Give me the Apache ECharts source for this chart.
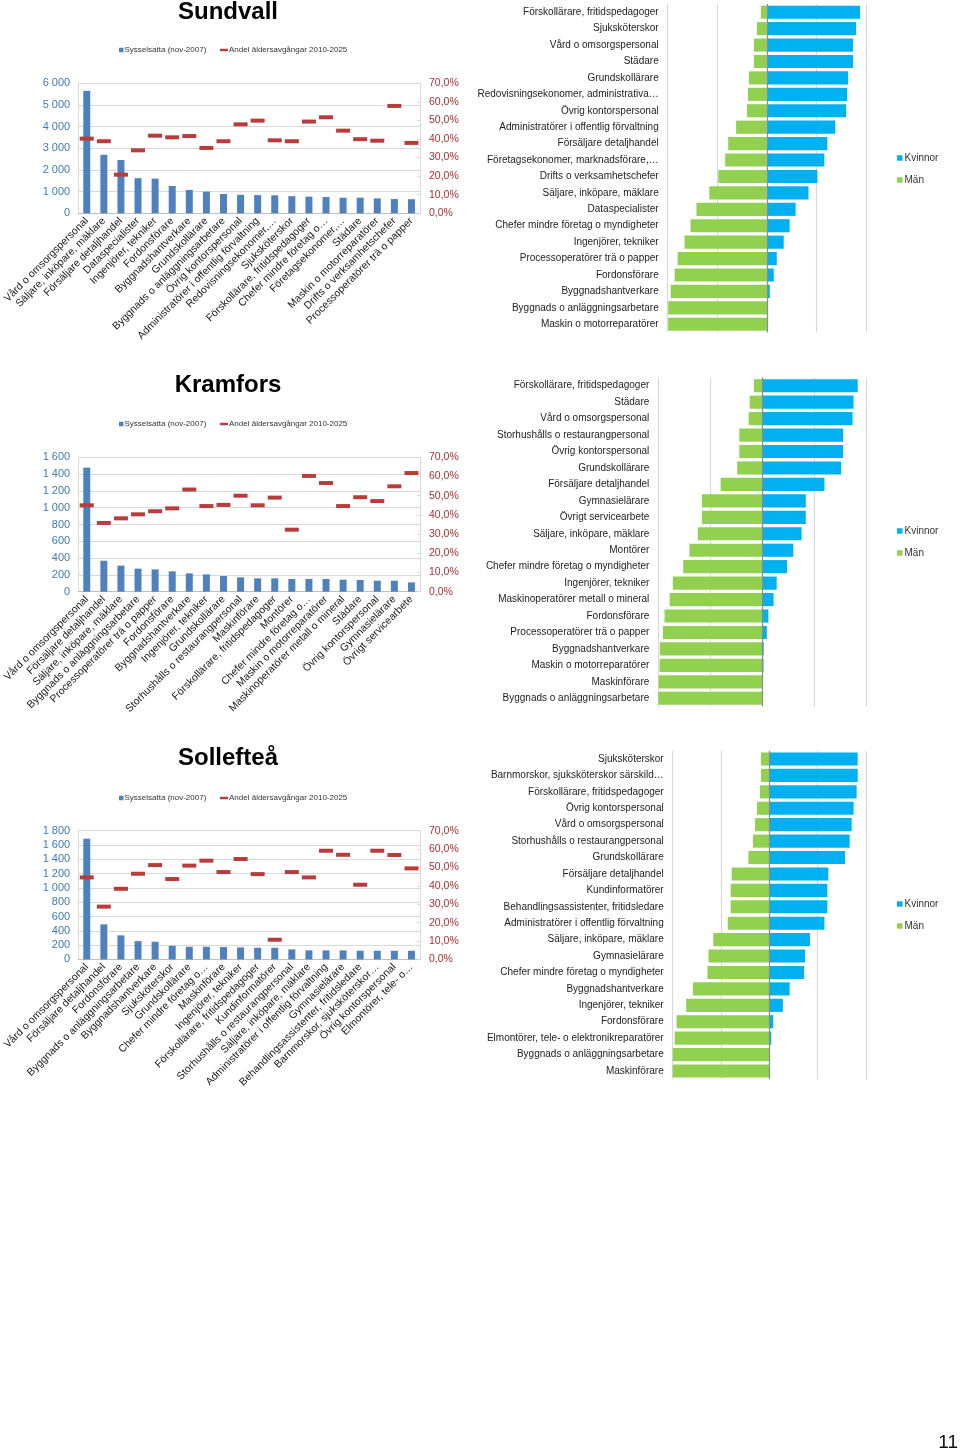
<!DOCTYPE html>
<html>
<head>
<meta charset="utf-8">
<script src="https://cdn.jsdelivr.net/npm/echarts@6/dist/echarts.min.js"></script>
<style>
html,body{margin:0;padding:0;background:#fff;}
#c{width:960px;height:1454px;}
</style>
</head>
<body>
<div id="c"></div>
<script>
// ---------- Sundvall ----------
const sundCats = ["Vård o omsorgspersonal","Säljare, inköpare, mäklare","Försäljare detaljhandel","Dataspecialister","Ingenjörer, tekniker","Fordonsförare","Byggnadshantverkare","Grundskollärare","Byggnads o anläggningsarbetare","Övrig kontorspersonal","Administratörer i offentlig förvaltning","Redovisningsekonomer,…","Sjuksköterskor","Förskollärare, fritidspedagoger","Chefer mindre företag o…","Företagsekonomer,…","Städare","Maskin o motorreparatörer","Drifts o verksamhetschefer","Processoperatörer trä o papper"];
const sundSyss = [5650,2700,2460,1620,1600,1260,1080,1000,890,850,840,830,790,770,750,720,720,690,660,650];
const sundAndel = [40.2,38.8,20.8,33.9,41.8,40.9,41.6,35.2,38.8,47.9,49.9,39.3,38.8,49.4,51.7,44.5,39.9,39.1,57.8,37.9];
const sundGenderCats = ["Förskollärare, fritidspedagoger","Sjuksköterskor","Vård o omsorgspersonal","Städare","Grundskollärare","Redovisningsekonomer, administrativa…","Övrig kontorspersonal","Administratörer i offentlig förvaltning","Försäljare detaljhandel","Företagsekonomer, marknadsförare,…","Drifts o verksamhetschefer","Säljare, inköpare, mäklare","Dataspecialister","Chefer mindre företag o myndigheter","Ingenjörer, tekniker","Processoperatörer trä o papper","Fordonsförare","Byggnadshantverkare","Byggnads o anläggningsarbetare","Maskin o motorreparatörer"];
const sundKvinnor = [94,90,87,87,82,81,80,69,61,58,51,42,29,23,17,10,7,3,0.5,0.5];
const sundMan = [6,10,13,13,18,19,20,31,39,42,49,58,71,77,83,90,93,97,99.5,99.5];

// ---------- Kramfors ----------
const kramCats = ["Vård o omsorgspersonal","Försäljare detaljhandel","Säljare, inköpare, mäklare","Byggnads o anläggningsarbetare","Processoperatörer trä o papper","Fordonsförare","Byggnadshantverkare","Ingenjörer, tekniker","Grundskollärare","Storhushålls o restaurangpersonal","Maskinförare","Förskollärare, fritidspedagoger","Montörer","Chefer mindre företag o…","Maskin o motorreparatörer","Maskinoperatörer metall o mineral","Städare","Övrig kontorspersonal","Gymnasielärare","Övrigt servicearbete"];
const kramSyss = [1477,369,310,274,266,242,218,206,187,171,159,159,151,151,151,143,139,131,131,111];
const kramAndel = [45.0,35.8,38.2,40.3,41.9,43.4,53.2,44.6,45.2,50.0,45.0,49.0,32.3,60.3,56.6,44.6,49.2,47.2,54.9,61.8];
const kramGenderCats = ["Förskollärare, fritidspedagoger","Städare","Vård o omsorgspersonal","Storhushålls o restaurangpersonal","Övrig kontorspersonal","Grundskollärare","Försäljare detaljhandel","Gymnasielärare","Övrigt servicearbete","Säljare, inköpare, mäklare","Montörer","Chefer mindre företag o myndigheter","Ingenjörer, tekniker","Maskinoperatörer metall o mineral","Fordonsförare","Processoperatörer trä o papper","Byggnadshantverkare","Maskin o motorreparatörer","Maskinförare","Byggnads o anläggningsarbetare"];
const kramKvinnor = [92,88,87,78,78,76,60,42,42,38,30,24,14,11,6,4.5,1.5,1.3,0.3,0];
const kramMan = [8,12,13,22,22,24,40,58,58,62,70,76,86,89,94,95.5,98.5,98.7,99.7,100];

// ---------- Sollefteå ----------
const solCats = ["Vård o omsorgspersonal","Försäljare detaljhandel","Fordonsförare","Byggnads o anläggningsarbetare","Byggnadshantverkare","Sjuksköterskor","Grundskollärare","Chefer mindre företag o…","Maskinförare","Ingenjörer, tekniker","Förskollärare, fritidspedagoger","Kundinformatörer","Storhushålls o restaurangpersonal","Säljare, inköpare, mäklare","Administratörer i offentlig förvaltning","Gymnasielärare","Behandlingsassistenter, fritidsledare","Barnmorskor, sjuksköterskor…","Övrig kontorspersonal","Elmontörer, tele- o…"];
const solSyss = [1688,490,336,256,247,191,177,177,173,168,163,163,140,126,126,126,121,121,121,121];
const solAndel = [44.6,28.7,38.4,46.6,51.3,43.7,51.0,53.7,47.5,54.6,46.4,10.7,47.5,44.6,59.1,56.9,40.6,59.1,56.8,49.5];
const solGenderCats = ["Sjuksköterskor","Barnmorskor, sjuksköterskor särskild…","Förskollärare, fritidspedagoger","Övrig kontorspersonal","Vård o omsorgspersonal","Storhushålls o restaurangpersonal","Grundskollärare","Försäljare detaljhandel","Kundinformatörer","Behandlingsassistenter, fritidsledare","Administratörer i offentlig förvaltning","Säljare, inköpare, mäklare","Gymnasielärare","Chefer mindre företag o myndigheter","Byggnadshantverkare","Ingenjörer, tekniker","Fordonsförare","Elmontörer, tele- o elektronikreparatörer","Byggnads o anläggningsarbetare","Maskinförare"];
const solKvinnor = [91.4,91.4,90.3,87.2,85.2,83.1,78.3,61,60,60,57,42,37,36,21,14,4,2,0,0];
const solMan = [8.6,8.6,9.7,12.8,14.8,16.9,21.7,39,40,40,43,58,63,64,79,86,96,98,100,100];

const titles = ["Sundvall","Kramfors","Sollefteå"];
const leftMax = [6000,1600,1800];
const leftInterval = [1000,200,200];
const pctMax = 70, pctInterval = 10;

// ---------- layout ----------
const FONT = "'Liberation Sans', Arial, sans-serif";
const blocks = [
  {cats:sundCats, syss:sundSyss, andel:sundAndel, gcats:sundGenderCats, kv:sundKvinnor, man:sundMan,
   titleY:12, legY:41, lg:{top:83.3,h:130}, rg:{left:667.7,right:866,top:4,h:328.5}, rlegY:148},
  {cats:kramCats, syss:kramSyss, andel:kramAndel, gcats:kramGenderCats, kv:kramKvinnor, man:kramMan,
   titleY:385, legY:415, lg:{top:457.3,h:134.4}, rg:{left:658.3,right:866,top:377.5,h:329}, rlegY:521},
  {cats:solCats, syss:solSyss, andel:solAndel, gcats:solGenderCats, kv:solKvinnor, man:solMan,
   titleY:758, legY:789, lg:{top:830.7,h:128.7}, rg:{left:672.7,right:866,top:750.8,h:328.4}, rlegY:894}
];

const C_BAR = '#4f81bd', C_MARK = '#b83c3c', C_KV = '#00b0f0', C_MAN = '#92d050';
const C_LEFTLBL = '#3e7cb1', C_RIGHTLBL = '#a83232', GRID = '#d9d9d9';

const grid = [], xAxis = [], yAxis = [], series = [], legend = [], graphic = [];

function thousands(v){ return String(v).replace(/\B(?=(\d{3})+(?!\d))/g,' '); }

blocks.forEach((b,i)=>{
  graphic.push({type:'text', x:228, y:b.titleY, style:{text:titles[i], textAlign:'center', textVerticalAlign:'middle', font:'bold 24px '+FONT, fill:'#000'}});
  grid.push({left:73, width:347, top:b.lg.top, height:b.lg.h});
  xAxis.push({type:'category', gridIndex:i, data:b.cats,
    axisLine:{lineStyle:{color:'#bfbfbf'}}, axisTick:{show:false},
    axisLabel:{rotate:45, interval:0, fontSize:10.5, color:'#1a1a1a', fontFamily:FONT, margin:6}});
  yAxis.push({type:'value', gridIndex:i, min:0, max:leftMax[i], interval:leftInterval[i], position:'left',
    axisLine:{show:true, lineStyle:{color:GRID}}, axisTick:{show:false},
    splitLine:{lineStyle:{color:GRID}},
    axisLabel:{fontSize:11, color:C_LEFTLBL, fontFamily:FONT, margin:8, formatter:thousands}});
  yAxis.push({type:'value', gridIndex:i, min:0, max:pctMax, interval:pctInterval, position:'right',
    axisLine:{show:true, lineStyle:{color:GRID}}, axisTick:{show:true, inside:true, length:3, lineStyle:{color:GRID}},
    splitLine:{show:false},
    axisLabel:{fontSize:10.5, color:C_RIGHTLBL, fontFamily:FONT, margin:9, formatter:v=>v.toFixed(1).replace('.',',')+'%'}});
  series.push({name:'Sysselsatta (nov-2007)', type:'bar', xAxisIndex:i, yAxisIndex:2*i, data:b.syss, barWidth:7, itemStyle:{color:C_BAR}, silent:true});
  series.push({name:'Andel äldersavgångar 2010-2025', type:'scatter', xAxisIndex:i, yAxisIndex:2*i+1, data:b.andel, symbol:'rect', symbolSize:[14,4], itemStyle:{color:C_MARK, opacity:1}, silent:true, z:5});
  legend.push({left:114, top:b.legY, itemWidth:4.5, itemHeight:4.5, itemGap:0, icon:'rect', data:[{name:'Sysselsatta (nov-2007)'}],
    textStyle:{fontSize:8, color:'#333', fontFamily:FONT, padding:[0,0,0,-4]}, selectedMode:false});
  legend.push({left:215, top:b.legY, itemWidth:8, itemHeight:2.5, itemGap:0, icon:'rect', data:[{name:'Andel äldersavgångar 2010-2025'}],
    textStyle:{fontSize:8, color:'#333', fontFamily:FONT, padding:[0,0,0,-4]}, selectedMode:false});
});

blocks.forEach((b,i)=>{
  const gi = 3+i;
  grid.push({left:b.rg.left, width:b.rg.right-b.rg.left, top:b.rg.top, height:b.rg.h});
  xAxis.push({type:'value', gridIndex:gi, min:-100, max:100, interval:50,
    axisLine:{show:false}, axisTick:{show:false}, axisLabel:{show:false},
    splitLine:{lineStyle:{color:GRID, width:1.2}}});
  yAxis.push({type:'category', gridIndex:gi, data:b.gcats, inverse:true,
    axisLine:{show:false, onZero:false}, axisTick:{show:false},
    axisLabel:{interval:0, fontSize:10, color:'#222', fontFamily:FONT, margin:9}});
  series.push({name:'Män', type:'bar', xAxisIndex:gi, yAxisIndex:6+i, stack:'g'+i, data:b.man.map(v=>-v), barCategoryGap:'20%', itemStyle:{color:C_MAN}, silent:true,
    markLine:{silent:true, symbol:'none', label:{show:false}, lineStyle:{color:'#8c8c8c', type:'solid', width:1.2}, data:[{xAxis:0}], z:10}});
  series.push({name:'Kvinnor', type:'bar', xAxisIndex:gi, yAxisIndex:6+i, stack:'g'+i, data:b.kv, barCategoryGap:'20%', itemStyle:{color:C_KV}, silent:true});
  legend.push({orient:'vertical', left:892, top:b.rlegY, itemWidth:5.5, itemHeight:5.5, itemGap:12, icon:'rect', data:['Kvinnor','Män'],
    textStyle:{fontSize:10, color:'#333', fontFamily:FONT, padding:[0,0,0,-3]}, selectedMode:false});
});

graphic.push({type:'text', x:958, y:1443, style:{text:'11', textAlign:'right', textVerticalAlign:'middle', font:'19px '+FONT, fill:'#111'}});

const chart = echarts.init(document.getElementById('c'), null, {renderer:'canvas'});
chart.setOption({animation:false, backgroundColor:'#fff', grid, xAxis, yAxis, series, legend, graphic});
</script>
</body>
</html>
